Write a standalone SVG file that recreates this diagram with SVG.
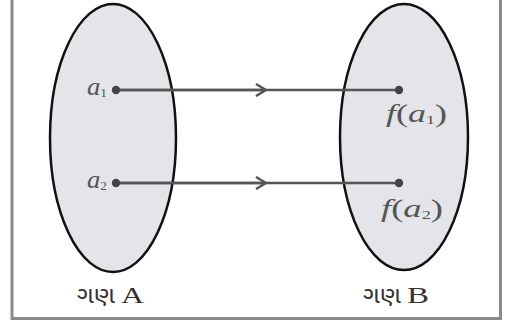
<svg xmlns="http://www.w3.org/2000/svg" width="510" height="326" viewBox="0 0 510 326">
<style>
.set{fill:#e3e5e8;stroke:#111;stroke-width:2.5}
.conn{stroke:#555;stroke-width:2.5;fill:none}
.dot{fill:#444}
.lbl{font-family:"Liberation Serif",serif;font-style:italic;font-size:26px;fill:#555}
.sub{font-size:13px;font-style:normal}
.name{font-family:"Liberation Serif","Noto Sans Gujarati",serif;font-size:23px;fill:#333}
</style>
<defs>
<marker id="chev" viewBox="0 0 12 14" refX="11" refY="7" markerWidth="12" markerHeight="14" markerUnits="userSpaceOnUse" orient="auto">
<path d="M1,1 L11,7 L1,13" fill="none" stroke="#555" stroke-width="2.5"/>
</marker>
</defs>
<rect width="510" height="326" fill="#fff"/>
<path d="M12,0 V318.5 H500.5 V0" fill="none" stroke="#8a8a8a" stroke-width="3"/>
<g id="setA">
<ellipse class="set" cx="113" cy="138" rx="63" ry="134"/>
<text class="name" x="77" y="303" textLength="38" lengthAdjust="spacingAndGlyphs">ગણ</text>
<text class="name" x="121" y="303" textLength="23" lengthAdjust="spacingAndGlyphs">A</text>
</g>
<g id="setB">
<ellipse class="set" cx="404" cy="137" rx="64" ry="133"/>
<text class="name" x="363" y="303" textLength="38" lengthAdjust="spacingAndGlyphs">ગણ</text>
<text class="name" x="407" y="303" textLength="22" lengthAdjust="spacingAndGlyphs">B</text>
</g>
<g id="connectors">
<line class="conn" x1="117" y1="90" x2="399" y2="90"/>
<line class="conn" x1="117" y1="183" x2="399" y2="183"/>
<path class="conn" d="M117,90 H266" marker-end="url(#chev)"/>
<path class="conn" d="M117,183 H266" marker-end="url(#chev)"/>
</g>
<g id="a1">
<circle class="dot" cx="116" cy="90" r="4.2"/>
<text class="lbl" x="87" y="95" textLength="20" lengthAdjust="spacingAndGlyphs">a<tspan class="sub" dy="2">1</tspan></text>
</g>
<g id="a2">
<circle class="dot" cx="116" cy="183" r="4.2"/>
<text class="lbl" x="87" y="188" textLength="20" lengthAdjust="spacingAndGlyphs">a<tspan class="sub" dy="2">2</tspan></text>
</g>
<g id="fa1">
<circle class="dot" cx="399" cy="90" r="4.2"/>
<text class="lbl" x="386" y="122" textLength="61" lengthAdjust="spacingAndGlyphs">f<tspan font-style="normal">(</tspan>a<tspan class="sub" dy="2">1</tspan><tspan font-style="normal" dy="-2">)</tspan></text>
</g>
<g id="fa2">
<circle class="dot" cx="399" cy="183" r="4.2"/>
<text class="lbl" x="381" y="217" textLength="62" lengthAdjust="spacingAndGlyphs">f<tspan font-style="normal">(</tspan>a<tspan class="sub" dy="2">2</tspan><tspan font-style="normal" dy="-2">)</tspan></text>
</g>
</svg>
